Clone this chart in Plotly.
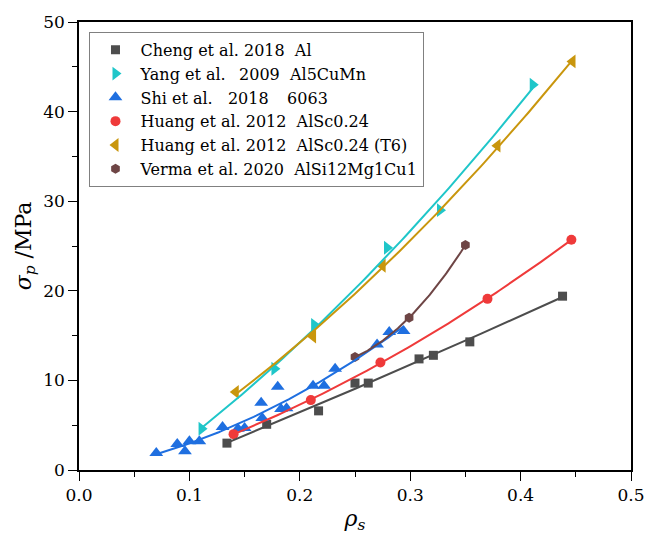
import numpy as np
import plotly.graph_objects as go

# Measured data: rho_s (x) vs sigma_p in MPa (y)
cheng_x = [0.134, 0.170, 0.217, 0.250, 0.262, 0.308, 0.321, 0.354, 0.438]
cheng_y = [3.0, 5.1, 6.6, 9.7, 9.7, 12.4, 12.8, 14.3, 19.4]

yang_x = [0.111, 0.177, 0.213, 0.279, 0.327, 0.411]
yang_y = [4.6, 11.3, 16.2, 24.8, 29.0, 43.0]

shi_x = [0.070, 0.089, 0.096, 0.100, 0.109, 0.130, 0.144, 0.150, 0.165, 0.166,
         0.180, 0.183, 0.188, 0.212, 0.222, 0.232, 0.270, 0.281, 0.294]
shi_y = [1.9, 2.9, 2.1, 3.2, 3.2, 4.8, 4.6, 4.7, 7.5, 5.8,
         9.3, 6.8, 6.9, 9.4, 9.4, 11.3, 14.0, 15.4, 15.5]

huang_x = [0.140, 0.210, 0.273, 0.370, 0.446]
huang_y = [4.0, 7.8, 12.0, 19.1, 25.7]

huang_t6_x = [0.142, 0.212, 0.275, 0.379, 0.447]
huang_t6_y = [8.7, 14.9, 22.8, 36.2, 45.6]

verma_x = [0.250, 0.299, 0.350]
verma_y = [12.6, 17.0, 25.1]

NB = "\u00a0"
TH = "\u2009"
series = [
    (f"Cheng et al. 2018{NB*2}Al", cheng_x, cheng_y, "#4d4d4d", "square", 9),
    (f"Yang et al.{NB*2}{TH}2009{NB*2}Al5CuMn", yang_x, yang_y, "#1fc6c9", "triangle-right", 12),
    (f"Shi et al.{NB*3}2018{NB*3}{TH}6063", shi_x, shi_y, "#1f6fe0", "triangle-up", 12),
    (f"Huang et al. 2012{NB*2}AlSc0.24", huang_x, huang_y, "#ef3a3a", "circle", 10),
    (f"Huang et al. 2012{NB*2}AlSc0.24 (T6)", huang_t6_x, huang_t6_y, "#c9960d", "triangle-left", 12),
    (f"Verma et al. 2020{NB*2}AlSi12Mg1Cu1", verma_x, verma_y, "#6e4545", "hexagon", 10),
]

fig = go.Figure()

# Markers first, then quadratic fit curves over each data range
for name, xs, ys, color, symbol, size in series:
    fig.add_trace(go.Scatter(
        x=xs, y=ys, mode="markers", name=name,
        marker=dict(symbol=symbol, size=size, color=color, line=dict(width=0)),
    ))

for name, xs, ys, color, symbol, size in series:
    xa, ya = np.array(xs), np.array(ys)
    coef = np.polyfit(xa, ya, 2)
    xf = np.linspace(xa.min(), xa.max(), 100)
    fig.add_trace(go.Scatter(
        x=xf, y=np.polyval(coef, xf), mode="lines", showlegend=False,
        line=dict(color=color, width=2), hoverinfo="skip",
    ))

serif = "DejaVu Serif"

axis_common = dict(
    showline=True, linecolor="black", linewidth=1.5, mirror=True,
    ticks="outside", ticklen=9, tickwidth=1.3, tickcolor="black",
    showgrid=False, zeroline=False, ticklabeloverflow="allow",
    tickfont=dict(family=serif, size=17, color="black"),
)

fig.update_xaxes(
    range=[0, 0.5], dtick=0.1, tickformat=".1f",
    minor=dict(ticks="outside", ticklen=5, tickcolor="black", dtick=0.05, showgrid=False),
    title=dict(text="<i>ρ</i><sub><i>s</i></sub>", font=dict(family=serif, size=22, color="black"), standoff=6),
    **axis_common,
)
fig.update_yaxes(
    range=[0, 50], dtick=10,
    minor=dict(ticks="outside", ticklen=5, tickcolor="black", dtick=5, showgrid=False),
    title=dict(text="<i>σ</i><sub><i>p</i></sub> /MPa", font=dict(family=serif, size=22, color="black"), standoff=6),
    **axis_common,
)

fig.update_layout(
    width=657, height=539,
    margin=dict(l=79, r=13, t=19, b=66),
    plot_bgcolor="white", paper_bgcolor="white",
    font=dict(family=serif),
    legend=dict(
        x=0.019, y=0.978, xanchor="left", yanchor="top",
        bgcolor="white", bordercolor="#808080", borderwidth=1,
        font=dict(family=serif, size=16, color="black"),
        tracegroupgap=0, itemsizing="trace", itemwidth=40,
    ),
)

fig.write_html("out.html")
